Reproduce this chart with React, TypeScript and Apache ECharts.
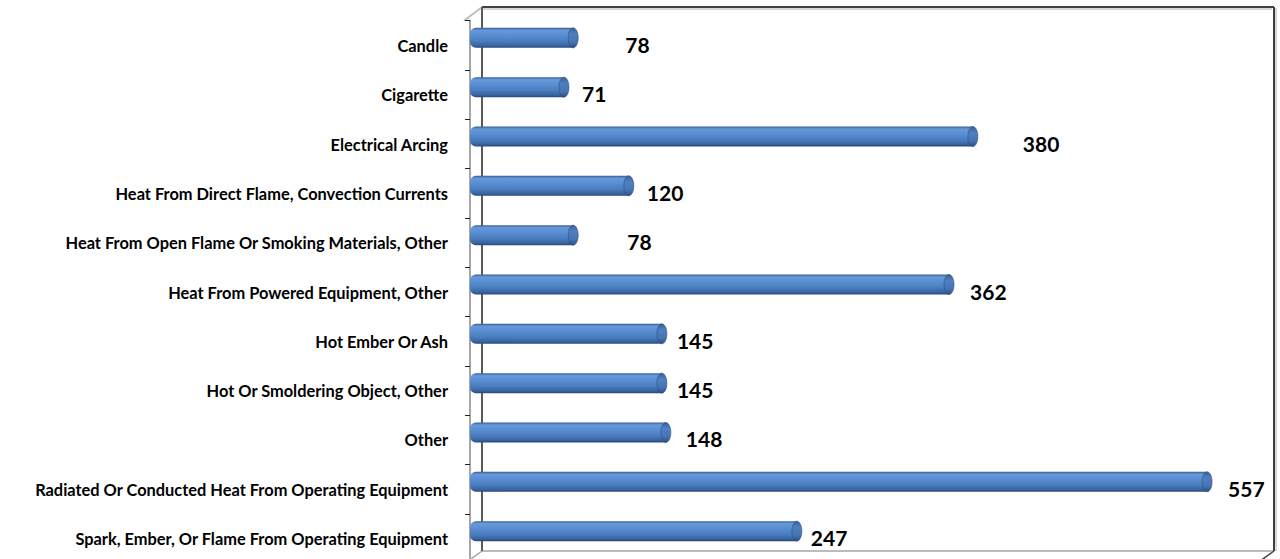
import React, { useEffect, useRef } from "react";
import * as echarts from "echarts";

const categories: string[] = [
  "Candle",
  "Cigarette",
  "Electrical Arcing",
  "Heat From Direct Flame, Convection Currents",
  "Heat From Open Flame Or Smoking Materials, Other",
  "Heat From Powered Equipment, Other",
  "Hot Ember Or Ash",
  "Hot Or Smoldering Object, Other",
  "Other",
  "Radiated Or Conducted Heat From Operating Equipment",
  "Spark, Ember, Or Flame From Operating Equipment",
];

const values: number[] = [78, 71, 380, 120, 78, 362, 145, 145, 148, 557, 247];

// label gap (px) between bar end and its value label, as placed in the original
const labelGap: number[] = [47, 13, 45, 13, 49, 16, 10, 10, 15, 16, 9];

const FONT = "Lato, 'Open Sans', sans-serif";

export default function App() {
  const ref = useRef<HTMLDivElement>(null);

  useEffect(() => {
    if (!ref.current) return;
    const chart = echarts.init(ref.current, undefined, { renderer: "svg" });

    const barGrad = new echarts.graphic.LinearGradient(0, 0, 0, 1, [
      { offset: 0, color: "#365d96" },
      { offset: 0.12, color: "#6699da" },
      { offset: 0.35, color: "#5a8fd3" },
      { offset: 0.65, color: "#4b7ec0" },
      { offset: 0.88, color: "#3a65a2" },
      { offset: 1, color: "#284877" },
    ]);
    const capGrad = new echarts.graphic.LinearGradient(0, 0, 0, 1, [
      { offset: 0, color: "#3a5f94" },
      { offset: 0.3, color: "#4f7fc0" },
      { offset: 0.7, color: "#4675b5" },
      { offset: 1, color: "#2e4f80" },
    ]);

    const data = values.map((v, i) => [v, i]);

    const dark = "#404040";
    const light = "#a6a6a6";

    chart.setOption({
      animation: false,
      backgroundColor: "#ffffff",
      grid: {
        left: 470,
        top: 20.7,
        width: 794,
        height: 542.6,
        containLabel: false,
        outerBoundsMode: "none",
      },
      xAxis: {
        type: "value",
        min: 0,
        max: 600,
        show: false,
        splitLine: { show: false },
      },
      yAxis: {
        type: "category",
        data: categories,
        inverse: true,
        offset: 6,
        axisLine: { show: true, lineStyle: { color: light, width: 2 } },
        axisTick: {
          show: true,
          interval: 0,
          length: 5,
          lineStyle: { color: "#222", width: 1 },
        },
        axisLabel: {
          interval: 0,
          margin: 16,
          color: "#000",
          fontWeight: "bold",
          fontSize: 16.4,
          fontFamily: FONT,
        },
        splitLine: { show: false },
      },
      graphic: [
        { type: "line", z: 0, shape: { x1: 464, y1: 20.7, x2: 482, y2: 7 }, style: { stroke: "#bfbfbf", lineWidth: 2 } },
        { type: "line", z: 0, shape: { x1: 482, y1: 551, x2: 1274, y2: 551 }, style: { stroke: light, lineWidth: 1.5 } },
        { type: "line", z: 0, shape: { x1: 482, y1: 551, x2: 464, y2: 564 }, style: { stroke: light, lineWidth: 1.5 } },
        { type: "line", z: 0, shape: { x1: 1274, y1: 551, x2: 1256, y2: 564 }, style: { stroke: dark, lineWidth: 1.5 } },
        { type: "line", z: 0, shape: { x1: 483, y1: 9, x2: 1272, y2: 9 }, style: { stroke: "#b0b0b0", lineWidth: 1 } },
        { type: "line", z: 0, shape: { x1: 1276, y1: 8, x2: 1276, y2: 551 }, style: { stroke: "#b0b0b0", lineWidth: 1 } },
        { type: "line", z: 0, shape: { x1: 482, y1: 7, x2: 1274, y2: 7 }, style: { stroke: dark, lineWidth: 2 } },
        { type: "line", z: 0, shape: { x1: 482, y1: 7, x2: 482, y2: 551 }, style: { stroke: "#5a5a5a", lineWidth: 2 } },
        { type: "line", z: 0, shape: { x1: 1274, y1: 7, x2: 1274, y2: 551 }, style: { stroke: dark, lineWidth: 2 } },
      ],
      series: [
        {
          type: "custom",
          coordinateSystem: "cartesian2d",
          encode: { x: 0, y: 1 },
          data,
          z: 5,
          renderItem: (params: any, api: any) => {
            const v = api.value(0) as number;
            const idx = api.value(1) as number;
            const p0 = api.coord([0, idx]);
            const p1 = api.coord([v, idx]);
            const h = 20;
            const cy = p0[1] - 7.5;
            const x0 = p0[0];
            const x1 = p1[0];
            const gap = labelGap[params.dataIndex] ?? 13;
            return {
              type: "group",
              children: [
                {
                  type: "rect",
                  shape: { x: x0, y: cy - h / 2, width: x1 - x0, height: h, r: [6, 0, 0, 6] },
                  style: { fill: barGrad },
                },
                {
                  type: "ellipse",
                  shape: { cx: x1, cy, rx: 5, ry: h / 2 },
                  style: { fill: capGrad, stroke: "#2e4f80", lineWidth: 0.6 },
                },
                {
                  type: "text",
                  x: x1 + 5 + gap,
                  y: p0[1] - 1,
                  style: {
                    text: String(v),
                    fill: "#000",
                    fontSize: 21,
                    fontWeight: "bold",
                    fontFamily: FONT,
                    align: "left",
                    verticalAlign: "middle",
                  },
                },
              ],
            };
          },
        },
      ],
    });

    return () => {
      chart.dispose();
    };
  }, []);

  return (
    <div
      ref={ref}
      style={{ position: "fixed", left: 0, top: 0, width: 1280, height: 559, background: "#fff" }}
    />
  );
}
